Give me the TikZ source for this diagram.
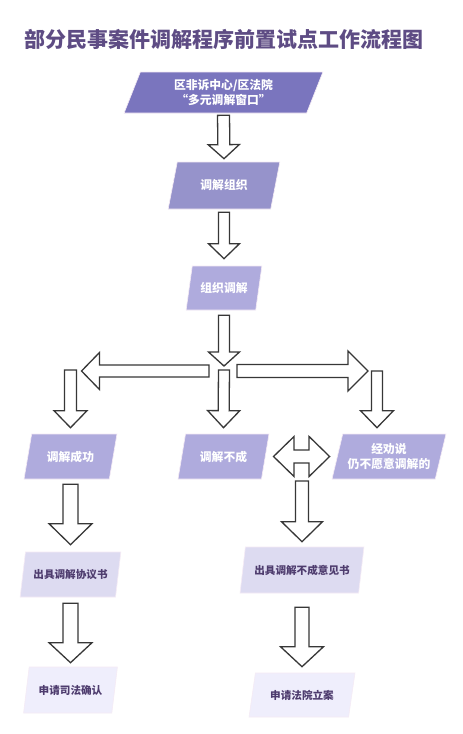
\documentclass[tikz,border=0pt]{standalone}
\usepackage{fontspec}
\setmainfont{Noto Sans CJK SC}
\usepackage{tikz}
\usetikzlibrary{positioning,shapes.geometric,calc}

\begin{document}
\begin{tikzpicture}[
  x=1pt, y=-1pt,
  every node/.style={inner sep=2pt},
  para/.style={trapezium, trapezium left angle=72, trapezium right angle=108,
    trapezium stretches=true, draw=white!92!violet, line width=0.6pt, align=center,
    text=white, font=\bfseries\fontsize{11.8}{15.5}\selectfont},
  paralt/.style={para, text=darktxt, font=\bfseries\fontsize{10.6}{13}\selectfont},
  blk/.style args={#1/#2/#3}{draw=arrowc, fill=white, line width=1.3pt,
    to path={let \p1=(\tikztostart), \p2=(\tikztotarget), \p3=($(\p2)!#3!(\p1)$) in
      ($(\p1)!#1!90:(\p2)$) -- ($(\p3)!#1!-90:(\p1)$) -- ($(\p3)!#2!-90:(\p1)$) -- (\p2)
      -- ($(\p3)!#2!90:(\p1)$) -- ($(\p3)!#1!90:(\p1)$) -- ($(\p1)!#1!-90:(\p2)$) -- cycle}},
  blkdbl/.style args={#1/#2/#3}{draw=arrowc, fill=white, line width=1.3pt,
    to path={let \p1=(\tikztostart), \p2=(\tikztotarget), \p3=($(\p1)!#3!(\p2)$), \p4=($(\p2)!#3!(\p1)$) in
      (\p1) -- ($(\p3)!#2!90:(\p2)$) -- ($(\p3)!#1!90:(\p2)$) -- ($(\p4)!#1!-90:(\p1)$) -- ($(\p4)!#2!-90:(\p1)$) -- (\p2)
      -- ($(\p4)!#2!90:(\p1)$) -- ($(\p4)!#1!90:(\p1)$) -- ($(\p3)!#1!-90:(\p2)$) -- ($(\p3)!#2!-90:(\p2)$) -- cycle}}
]
\definecolor{titlec}{RGB}{94,76,132}
\definecolor{darktxt}{RGB}{78,60,110}
\definecolor{arrowc}{RGB}{55,55,55}
\definecolor{boxa}{RGB}{122,117,190}
\definecolor{boxb}{RGB}{150,147,203}
\definecolor{boxc}{RGB}{175,171,221}
\definecolor{boxd}{RGB}{221,219,241}
\definecolor{boxe}{RGB}{239,238,252}

\useasboundingbox[fill=white] (0,0) rectangle (463,734);

% Nodes (x, y in px of the page, y downwards)
\node[text=titlec, font=\bfseries\fontsize{21}{25}\selectfont] (title) at (224,39) {部分民事案件调解程序前置试点工作流程图};

\node[para, fill=boxa, minimum width=199pt, minimum height=41pt] (window)  at (223.5,92.5) {区非诉中心/区法院\\“多元调解窗口”};
\node[para, fill=boxb, minimum width=112pt, minimum height=47pt] (org)     at (224,185.5)  {调解组织};
\node[para, fill=boxc, minimum width=76pt,  minimum height=44pt] (mediate) at (224,288)    {组织调解};

\node[para, fill=boxc, minimum width=93pt,  minimum height=45pt] (success) at (70.5,456.5) {调解成功};
\node[para, fill=boxc, minimum width=91pt,  minimum height=45pt] (fail)    at (223.5,456.5) {调解不成};
\node[para, fill=boxc, minimum width=114pt, minimum height=45pt] (refuse)  at (389,456.5)  {经劝说\\仍不愿意调解的};

\node[paralt, fill=boxd, minimum width=101pt, minimum height=45pt] (agree)   at (70.5,574.5) {出具调解协议书};
\node[paralt, fill=boxe, minimum width=94pt,  minimum height=46pt] (confirm) at (70.5,690)   {申请司法确认};
\node[paralt, fill=boxd, minimum width=124pt, minimum height=46pt] (notice)  at (302,570)    {出具调解不成意见书};
\node[paralt, fill=boxe, minimum width=106pt, minimum height=44pt] (file)    at (302,695)    {申请法院立案};

\coordinate (fork)  at (224,371);
\coordinate (forkL) at (70.5,371);
\coordinate (forkR) at (377,371);
\coordinate (joinR) at (302,481);

% Arrows
\draw[blk=6pt/15.5pt/14pt] ([yshift=-2pt]window.south) to ([yshift=3pt]org.north);
\draw[blk=5.5pt/15.5pt/15pt] ([yshift=-3pt]org.south) to ([yshift=7pt]mediate.north);
\draw[blk=5.5pt/15.5pt/14pt] ([yshift=-5pt]mediate.south) to ([yshift=5pt]fork);

\draw[blk=6pt/18.5pt/18pt] ([xshift=-15pt]fork) to ([xshift=11pt]forkL);
\draw[blk=6.5pt/20pt/20pt] ([xshift=13pt]fork) to ([xshift=-9pt]forkR);
\draw[blk=5.5pt/16pt/17pt] ([yshift=1pt]fork) to ([yshift=6pt]fail.north);
\draw[blk=6pt/16.5pt/17pt] ([yshift=1pt]forkL) to ([yshift=6pt]success.north);
\draw[blk=5.5pt/16.5pt/17pt] (forkR) to ([yshift=6pt]forkR |- refuse.north);

\draw[blk=7.5pt/21.5pt/21pt] ([yshift=-5pt]success.south) to ([yshift=7pt]agree.north);
\draw[blk=7.5pt/21.5pt/20pt] ([yshift=-6pt]agree.south) to ([yshift=4pt]confirm.north);

\draw[blkdbl=6.5pt/20pt/20.5pt] ([xshift=8pt]fail.east) to ([xshift=-7.5pt]refuse.west);
\draw[blk=6.5pt/20.5pt/20pt] (joinR) to ([yshift=5pt]notice.north);
\draw[blk=7pt/21.5pt/20pt] ([yshift=-14pt]notice.south) to ([yshift=6pt]file.north);
\end{tikzpicture}
\end{document}
